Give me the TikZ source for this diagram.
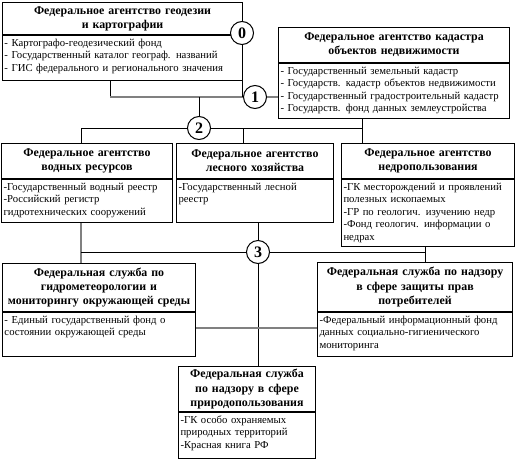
\documentclass[tikz,border=0pt]{standalone}
\usepackage{fontspec}
\setmainfont{Liberation Serif}
\begin{document}
\begin{tikzpicture}[x=1pt,y=-1pt,
    head/.style={draw,line width=1pt,anchor=north west,inner sep=2pt,align=center,
      font=\bfseries\fontsize{11.9}{14.2}\selectfont},
    list/.style={draw,line width=1pt,anchor=north west,inner sep=2pt,align=left,
      font=\fontsize{10.7}{12.5}\selectfont,text height=8.5pt,text depth=#1},
    num/.style={circle,draw,line width=1pt,fill=white,minimum size=23pt,inner sep=0pt,
      font=\bfseries\fontsize{16}{16}\selectfont},
    link/.style={line width=0.8pt},
    glink/.style={line width=1.2pt,gray},
    sep/.style={line width=2pt}]
    \useasboundingbox (0,0) rectangle (518,458);
    % geodesy
    \node[head,text width=236pt,minimum height=32pt] (geoT) at (2,2)
      {Федеральное агентство геодезии\\и картографии};
    \node[list=32.5pt,text width=236pt] (geoI) at (geoT.south west)
      {- Картографо-геодезический фонд\\- Государственный каталог географ. названий\\- ГИС федерального и регионального значения};
    % cadastre
    \node[head,text width=227pt,minimum height=35pt] (kadT) at (278,27)
      {Федеральное агентство кадастра\\объектов недвижимости};
    \node[list=42.5pt,text width=227pt] (kadI) at (kadT.south west)
      {- Государственный земельный кадастр\\- Государств. кадастр объектов недвижимости\\- Государственный градостроительный кадастр\\- Государств. фонд данных землеустройства};
    % water
    \node[head,text width=167pt,minimum height=35pt] (waterT) at (1,143)
      {Федеральное агентство\\водных ресурсов};
    \node[list=30.5pt,text width=167pt] (waterI) at (waterT.south west)
      {-Государственный водный реестр\\-Российский регистр\\гидротехнических сооружений};
    % forest
    \node[head,text width=153pt,minimum height=35pt] (forestT) at (176,143)
      {Федеральное агентство\\лесного хозяйства};
    \node[list=30.5pt,text width=153pt] (forestI) at (forestT.south west)
      {-Государственный лесной\\реестр};
    % subsoil
    \node[head,text width=169pt,minimum height=35pt] (nedraT) at (341,143)
      {Федеральное агентство\\недропользования};
    \node[list=54.5pt,text width=169pt] (nedraI) at (nedraT.south west)
      {-ГК месторождений и проявлений\\полезных ископаемых\\-ГР по геологич. изучению недр\\-Фонд геологич. информации о\\недрах};
    % hydrometeorology
    \node[head,text width=189pt,minimum height=48pt] (hydroT) at (2,263)
      {Федеральная служба по\\гидрометеорологии и\\мониторингу окружающей среды};
    \node[list=31.5pt,text width=189pt] (hydroI) at (hydroT.south west)
      {- Единый государственный фонд о\\состоянии окружающей среды};
    % consumers
    \node[head,text width=191pt,minimum height=49pt] (consT) at (317,262)
      {Федеральная служба по надзору\\в сфере защиты прав\\потребителей};
    \node[list=31.5pt,text width=191pt] (consI) at (consT.south west)
      {-Федеральный информационный фонд\\данных социально-гигиенического\\мониторинга};
    % nature use
    \node[head,text width=133pt,minimum height=45pt] (prirodT) at (178,366)
      {Федеральная служба\\по надзору в сфере\\природопользования};
    \node[list=33.5pt,text width=133pt] (prirodI) at (prirodT.south west)
      {-ГК особо охраняемых\\природных территорий\\-Красная книга РФ};
    % thick separators
    \foreach \b in {geo,kad,water,forest,nedra,hydro,cons,prirod}
      \draw[sep] (\b T.south west) -- (\b T.south east);
    % numbers
    \node[num] (c0) at (242,33) {0};
    \node[num] (c1) at (255,97) {1};
    \node[num] (c2) at (199,128) {2};
    \node[num] (c3) at (258,252) {3};
    % junctions
    \coordinate (j0) at (110,97);
    \coordinate (jw) at (81,128);
    \coordinate (jf) at (243,128);
    \coordinate (jn) at (362,128);
    \coordinate (kw) at (81,252);
    \coordinate (kn) at (425,252);
    \coordinate (kx) at (258,328);
    % upper links
    \draw[link] (geoI.south -| j0) -- (j0);
    \draw[glink] (j0) -- (c1);
    \draw[link] (c0) -- (c0 |- c1);
    \draw[glink] (c1) -- (c1 -| kadI.west);
    \draw[link] (c2 |- j0) -- (c2);
    % line 2
    \draw[link] (waterT.north -| jw) -- (jw) -- (c2) -- (jn) -- (jn |- nedraT.north);
    \draw[link] (kadI.south -| jn) -- (jn);
    \draw[link] (jf) -- (jf |- forestT.north);
    % line 3
    \draw[glink] (waterI.south -| kw) -- (hydroT.north -| kw);
    \draw[link] (kw) -- (c3) -- (kn);
    \draw[link] (nedraI.south -| kn) -- (consT.north -| kn);
    \draw[link] (forestI.south -| c3) -- (c3) -- (prirodT.north -| c3);
    \draw[glink] (hydroI.east |- kx) -- (consI.west |- kx);
\end{tikzpicture}
\end{document}
